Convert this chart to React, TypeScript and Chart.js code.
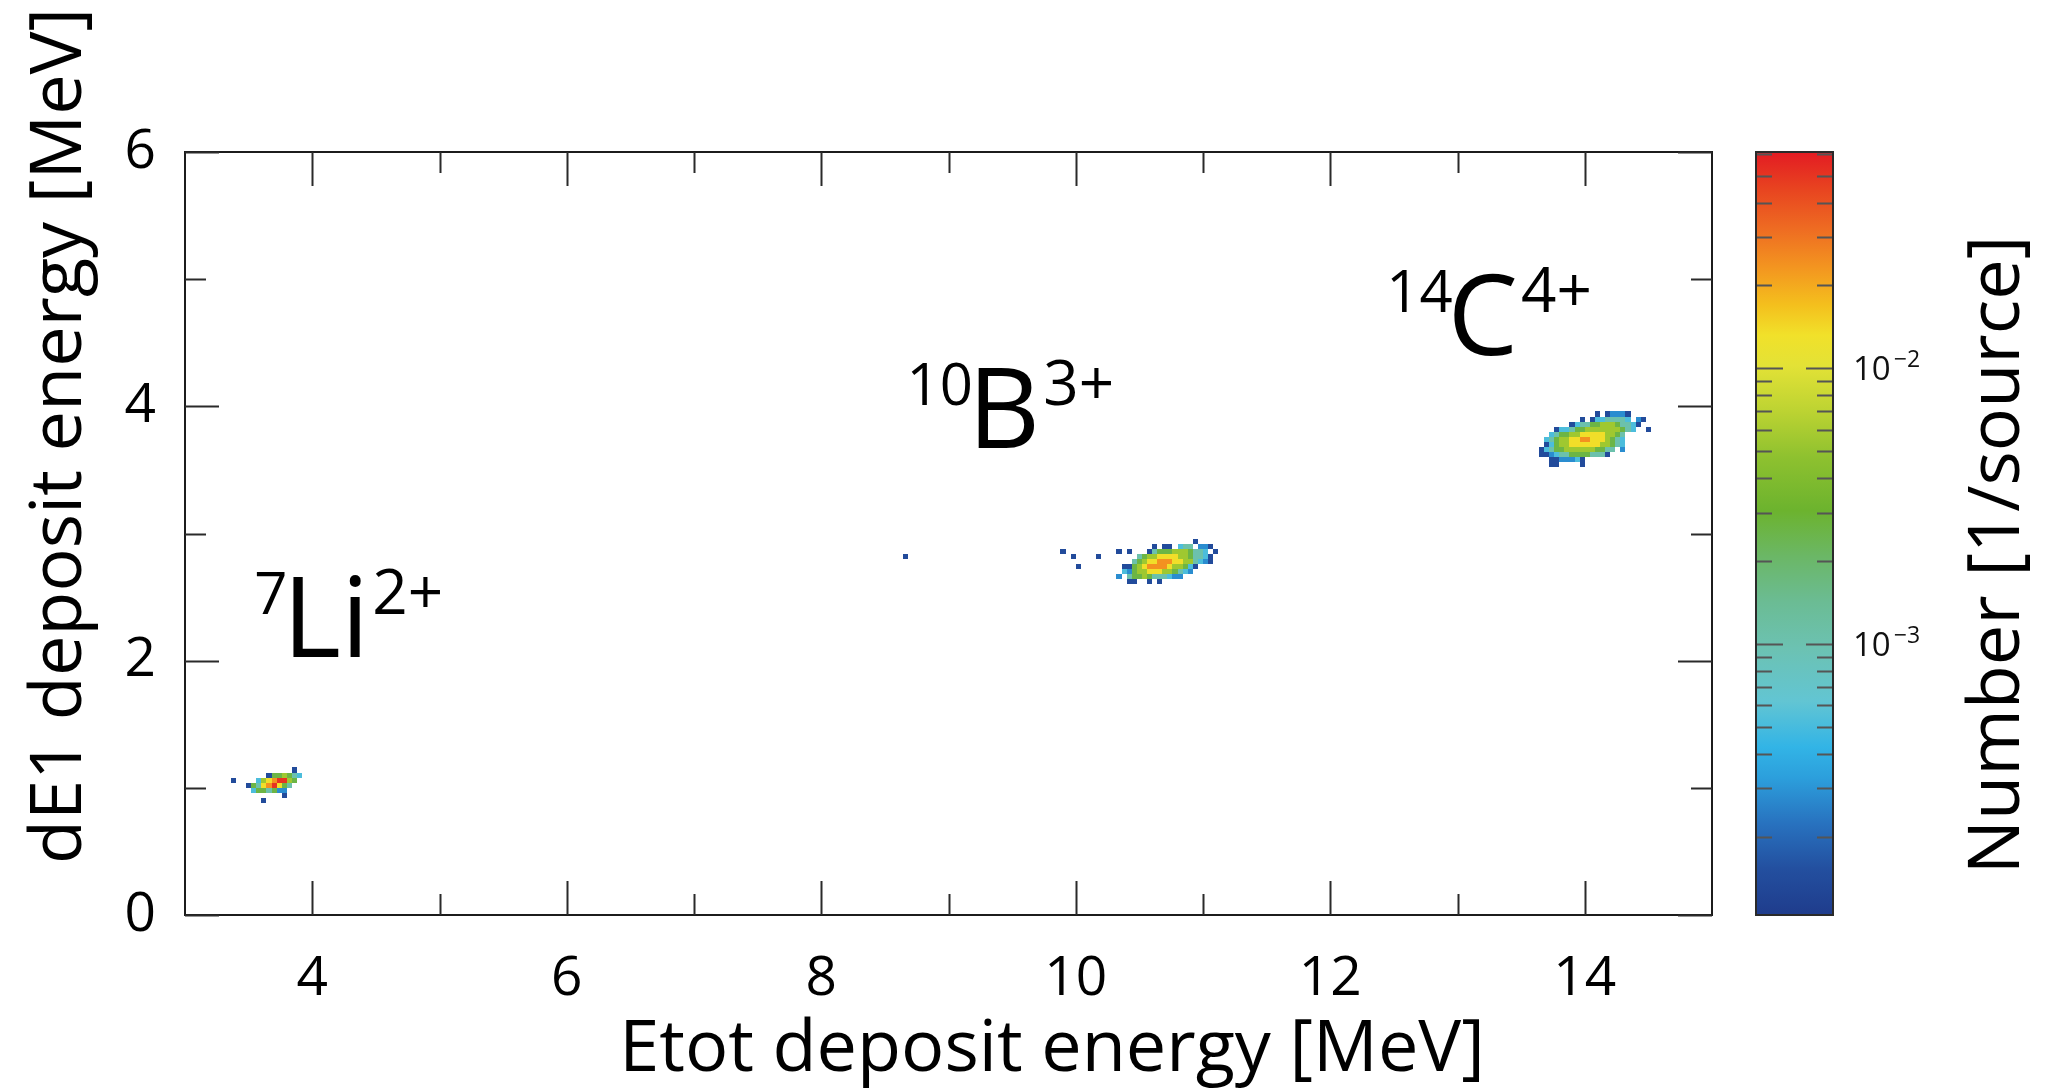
import React, { useEffect, useRef } from 'react';
import { Chart, registerables } from 'chart.js';

Chart.register(...registerables);

// ---------- data ----------
const BIN = 0.04; // MeV, histogram bin width (x and y)

// colour level code (digit in the grids below) -> counts per source
const LEVEL_VALUES = [0, 1.4e-4, 2.8e-4, 5.2e-4, 1.05e-3, 2.6e-3, 5.5e-3, 1.35e-2, 2.4e-2, 5.1e-2];

// 7Li cluster: [x of first column, upper edge of first row]
const LI_ORIGIN = [3.36, 1.16];
const LI_ROWS = [
  '............1.',
  '.......1556543',
  '1....36789965.',
  '...154789754..',
  '....3554522...',
  '..........1...',
  '......1.......',
];

// 10B cluster
const B_ORIGIN = [10.28, 2.96];
const B_ROWS = [
  '................1....',
  '........1.11.344.221.',
  '.1.1...145556665443.1',
  '.....456677776654431.',
  '....4567788877664321.',
  '..115678888766531....',
  '..32566777665432.....',
  '.2.45565444322.......',
  '...11..1.1...........',
];

// 14C cluster
const C_ORIGIN = [13.6, 3.96];
const C_ROWS = [
  '............1.12221.....',
  '.........1.13344443.21..',
  '.......13445566654431...',
  '....1334556666666543..1.',
  '...345566777776654......',
  '..3456677887776543......',
  '..1356677777766543......',
  '.134556666665544.2......',
  '.11234455554441.........',
  '...1122231..............',
  '...11....1..............',
];

// isolated single cells: [x lower edge, y lower edge, level]
const STRAY_CELLS = [
  [8.64, 2.8, 1],
  [9.88, 2.84, 1],
  [9.96, 2.8, 1],
  [10.0, 2.72, 1],
  [10.16, 2.8, 1],
];

const X_RANGE = [3, 15];
const Y_RANGE = [0, 6];
const X_MAJOR = [4, 6, 8, 10, 12, 14];
const X_MINOR = [5, 7, 9, 11, 13];
const Y_MAJOR = [0, 2, 4, 6];
const Y_MINOR = [1, 3, 5];

const CB_RANGE = [1.04e-4, 6.1e-2];
const CB_MAJOR = [1e-3, 1e-2];
const CB_MAJOR_EXP = ['\u22123', '\u22122'];
const CB_MINOR = [
  2e-4, 3e-4, 4e-4, 5e-4, 6e-4, 7e-4, 8e-4, 9e-4,
  2e-3, 3e-3, 4e-3, 5e-3, 6e-3, 7e-3, 8e-3, 9e-3,
  2e-2, 3e-2, 4e-2, 5e-2, 6e-2,
];

const IONS = [
  { mass: '7', symbol: 'Li', charge: '2+', x: 3.545, y: 2.03 },
  { mass: '10', symbol: 'B', charge: '3+', x: 8.67, y: 3.67 },
  { mass: '14', symbol: 'C', charge: '4+', x: 12.44, y: 4.4 },
];

const X_TITLE = 'Etot deposit energy [MeV]';
const Y_TITLE = 'dE1 deposit energy [MeV]';
const Z_TITLE = 'Number [1/source]';

const COLOR_STOPS: [number, string][] = [
  [0.0, '#1f3c8c'],
  [0.06, '#234f9f'],
  [0.12, '#2872bf'],
  [0.18, '#2c9fdc'],
  [0.22, '#32b4e6'],
  [0.28, '#62c5d3'],
  [0.35, '#6cc2b2'],
  [0.41, '#6bbc94'],
  [0.47, '#6bb766'],
  [0.53, '#6cb32e'],
  [0.6, '#8ec12f'],
  [0.66, '#bcd332'],
  [0.72, '#e3e236'],
  [0.76, '#f1e12a'],
  [0.8, '#f4bf1d'],
  [0.85, '#f39420'],
  [0.9, '#ee6b22'],
  [0.95, '#e84520'],
  [1.0, '#e31b23'],
];

// ---------- helpers ----------
type Cell = { x0: number; y0: number; v: number };

function gridCells(origin: number[], rows: string[]): Cell[] {
  const out: Cell[] = [];
  rows.forEach((row, r) => {
    for (let c = 0; c < row.length; c++) {
      const d = row.charCodeAt(c) - 48;
      if (d >= 1 && d <= 9) {
        out.push({ x0: origin[0] + c * BIN, y0: origin[1] - (r + 1) * BIN, v: LEVEL_VALUES[d] });
      }
    }
  });
  return out;
}

const CELLS: Cell[] = [
  ...gridCells(LI_ORIGIN, LI_ROWS),
  ...gridCells(B_ORIGIN, B_ROWS),
  ...gridCells(C_ORIGIN, C_ROWS),
  ...STRAY_CELLS.map((s) => ({ x0: s[0], y0: s[1], v: LEVEL_VALUES[s[2]] })),
];

function hexToRgb(h: string) {
  const n = parseInt(h.slice(1), 16);
  return [(n >> 16) & 255, (n >> 8) & 255, n & 255];
}

function colorAt(t: number) {
  const tt = Math.max(0, Math.min(1, t));
  for (let i = 1; i < COLOR_STOPS.length; i++) {
    const [t1, c1] = COLOR_STOPS[i];
    const [t0, c0] = COLOR_STOPS[i - 1];
    if (tt <= t1) {
      const f = (tt - t0) / (t1 - t0 || 1);
      const a = hexToRgb(c0);
      const b = hexToRgb(c1);
      const m = a.map((v, k) => Math.round(v + (b[k] - v) * f));
      return `rgb(${m[0]},${m[1]},${m[2]})`;
    }
  }
  return COLOR_STOPS[COLOR_STOPS.length - 1][1];
}

const FONT = '"Open Sans", "Noto Sans", sans-serif';

// ---------- plugin ----------
const histPlugin = {
  id: 'hist2d',
  afterDatasetsDraw(chart: any) {
    const ctx: CanvasRenderingContext2D = chart.ctx;
    const xs = chart.scales.x;
    const ys = chart.scales.y;
    const cb = chart.scales.cb;
    const area = chart.chartArea;

    // heat-map cells
    ctx.save();
    CELLS.forEach((cell) => {
      const px0 = Math.round(xs.getPixelForValue(cell.x0));
      const px1 = Math.round(xs.getPixelForValue(cell.x0 + BIN));
      const py0 = Math.round(ys.getPixelForValue(cell.y0 + BIN));
      const py1 = Math.round(ys.getPixelForValue(cell.y0));
      const p = cb.getPixelForValue(cell.v);
      const t = (cb.bottom - p) / (cb.bottom - cb.top);
      ctx.fillStyle = colorAt(t);
      ctx.fillRect(px0, py0, px1 - px0, py1 - py0);
    });
    ctx.restore();

    // frame + inward ticks
    ctx.save();
    ctx.strokeStyle = '#1c1c1c';
    ctx.lineWidth = 2;
    ctx.strokeRect(area.left, area.top, area.right - area.left, area.bottom - area.top);
    const tickX = (vals: number[], len: number) => {
      vals.forEach((v) => {
        const px = Math.round(xs.getPixelForValue(v)) + 0.5;
        ctx.beginPath();
        ctx.moveTo(px, area.bottom);
        ctx.lineTo(px, area.bottom - len);
        ctx.moveTo(px, area.top);
        ctx.lineTo(px, area.top + len);
        ctx.stroke();
      });
    };
    const tickY = (vals: number[], len: number) => {
      vals.forEach((v) => {
        const py = Math.round(ys.getPixelForValue(v)) + 0.5;
        ctx.beginPath();
        ctx.moveTo(area.left, py);
        ctx.lineTo(area.left + len, py);
        ctx.moveTo(area.right, py);
        ctx.lineTo(area.right - len, py);
        ctx.stroke();
      });
    };
    ctx.strokeStyle = '#2a2a2a';
    tickX(X_MAJOR, 34);
    tickX(X_MINOR, 21);
    tickY(Y_MAJOR, 34);
    tickY(Y_MINOR, 21);
    ctx.restore();

    // colour bar
    const barL = area.right + 44;
    const barR = area.right + 121;
    ctx.save();
    const grad = ctx.createLinearGradient(0, cb.bottom, 0, cb.top);
    COLOR_STOPS.forEach(([t, c]) => grad.addColorStop(t, c));
    ctx.fillStyle = grad;
    ctx.fillRect(barL, cb.top, barR - barL, cb.bottom - cb.top);
    ctx.strokeStyle = '#555';
    ctx.lineWidth = 2;
    const cbTick = (vals: number[], len: number) => {
      vals.forEach((v) => {
        const py = Math.round(cb.getPixelForValue(v)) + 0.5;
        ctx.beginPath();
        ctx.moveTo(barL, py);
        ctx.lineTo(barL + len, py);
        ctx.moveTo(barR, py);
        ctx.lineTo(barR - len, py);
        ctx.stroke();
      });
    };
    cbTick(CB_MINOR, 16);
    cbTick(CB_MAJOR, 27);
    ctx.strokeStyle = '#2a2a2a';
    ctx.strokeRect(barL, cb.top, barR - barL, cb.bottom - cb.top);

    ctx.fillStyle = '#111';
    ctx.textBaseline = 'alphabetic';
    ctx.textAlign = 'left';
    CB_MAJOR.forEach((v, i) => {
      const py = cb.getPixelForValue(v);
      ctx.font = `33px ${FONT}`;
      ctx.fillText('10', barR + 20, py + 12);
      const w = ctx.measureText('10').width;
      ctx.font = `23px ${FONT}`;
      ctx.fillText(CB_MAJOR_EXP[i], barR + 20 + w + 3, py - 1);
    });
    ctx.restore();

    // ion labels
    ctx.save();
    ctx.fillStyle = '#000';
    ctx.textAlign = 'left';
    ctx.textBaseline = 'alphabetic';
    IONS.forEach((ion) => {
      const px = xs.getPixelForValue(ion.x);
      const py = ys.getPixelForValue(ion.y);
      ctx.font = `58px ${FONT}`;
      ctx.fillText(ion.mass, px, py - 43);
      const wm = ctx.measureText(ion.mass).width;
      ctx.font = `112px ${FONT}`;
      const sx = px + wm - 5;
      ctx.fillText(ion.symbol, sx, py);
      const ws = ctx.measureText(ion.symbol).width;
      ctx.font = `62px ${FONT}`;
      ctx.fillText(ion.charge, sx + ws + 3, py - 43);
    });
    ctx.restore();

    // axis titles
    ctx.save();
    ctx.fillStyle = '#000';
    ctx.font = `72px ${FONT}`;
    ctx.textAlign = 'center';
    ctx.textBaseline = 'alphabetic';
    ctx.fillText(X_TITLE, 1052, 1071);
    ctx.save();
    ctx.translate(81, 436);
    ctx.rotate(-Math.PI / 2);
    ctx.fillText(Y_TITLE, 0, 0);
    ctx.restore();
    ctx.save();
    ctx.translate(2019, 555);
    ctx.rotate(-Math.PI / 2);
    ctx.fillText(Z_TITLE, 0, 0);
    ctx.restore();
    ctx.restore();
  },
};

export default function App() {
  const ref = useRef<HTMLCanvasElement | null>(null);

  useEffect(() => {
    if (!ref.current) return;
    const chart = new Chart(ref.current, {
      type: 'scatter',
      data: {
        datasets: [
          {
            label: 'counts',
            data: CELLS.map((c) => ({ x: c.x0 + BIN / 2, y: c.y0 + BIN / 2 })),
            pointRadius: 0,
            pointHoverRadius: 0,
          },
        ],
      },
      options: {
        animation: false,
        responsive: false,
        devicePixelRatio: 1,
        events: [],
        layout: { padding: { top: 152, left: 0, right: 0, bottom: 0 } },
        plugins: { legend: { display: false }, tooltip: { enabled: false }, title: { display: false } },
        scales: {
          x: {
            type: 'linear',
            position: 'bottom',
            min: X_RANGE[0],
            max: X_RANGE[1],
            afterBuildTicks: (s: any) => {
              s.ticks = X_MAJOR.map((v) => ({ value: v }));
            },
            afterFit: (s: any) => {
              s.height = 173;
            },
            grid: { display: false, drawTicks: false },
            border: { display: false },
            ticks: {
              font: { family: FONT, size: 55 },
              color: '#000',
              padding: 31,
              maxRotation: 0,
              autoSkip: false,
            },
          },
          y: {
            type: 'linear',
            position: 'left',
            min: Y_RANGE[0],
            max: Y_RANGE[1],
            afterBuildTicks: (s: any) => {
              s.ticks = Y_MAJOR.map((v) => ({ value: v }));
            },
            afterFit: (s: any) => {
              s.width = 185;
            },
            grid: { display: false, drawTicks: false },
            border: { display: false },
            ticks: {
              font: { family: FONT, size: 55 },
              color: '#000',
              padding: 29,
              autoSkip: false,
            },
          },
          cb: {
            type: 'logarithmic',
            position: 'right',
            min: CB_RANGE[0],
            max: CB_RANGE[1],
            afterFit: (s: any) => {
              s.width = 337;
            },
            grid: { display: false, drawTicks: false },
            border: { display: false },
            ticks: { display: false },
          },
        },
      } as any,
      plugins: [histPlugin],
    });
    return () => chart.destroy();
  }, []);

  return (
    <div style={{ position: 'fixed', left: 0, top: 0, width: 2049, height: 1088, background: '#fff' }}>
      <canvas ref={ref} width={2049} height={1088} style={{ display: 'block', width: 2049, height: 1088 }} />
    </div>
  );
}
